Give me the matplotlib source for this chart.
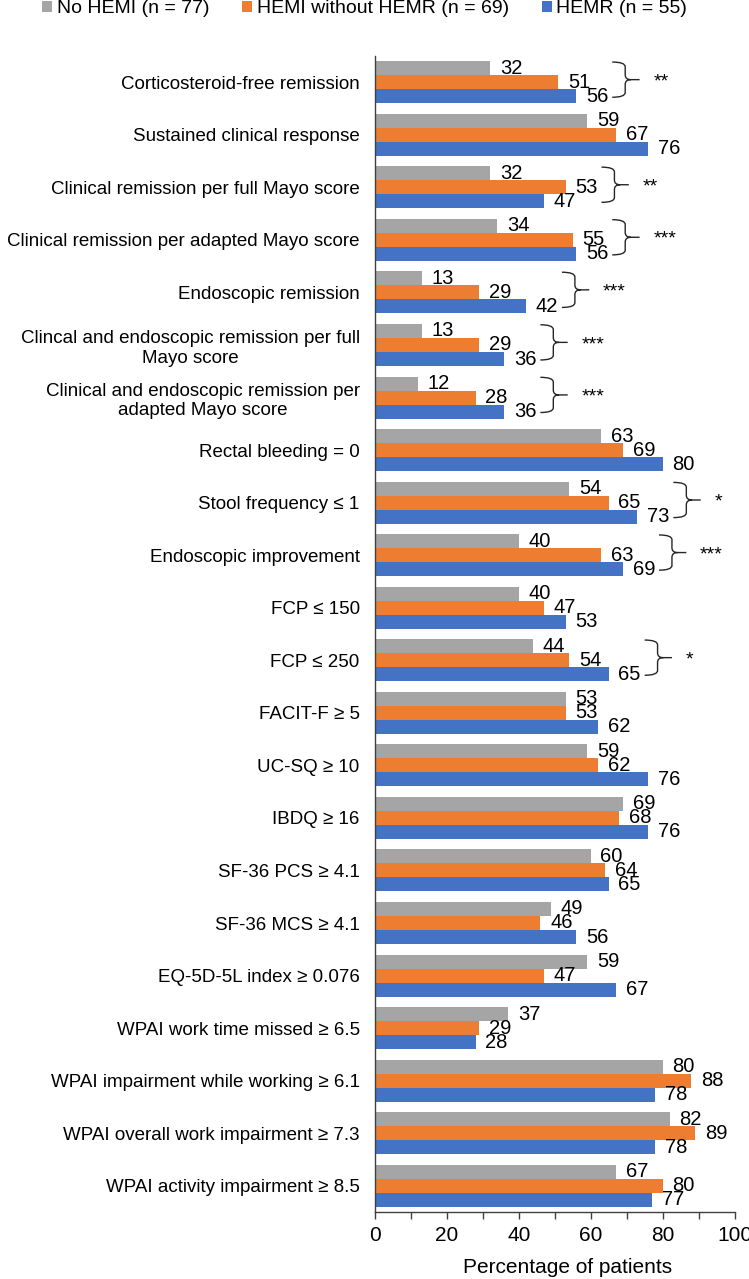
import matplotlib
matplotlib.use("Agg")
import matplotlib.pyplot as plt
import numpy as np
from matplotlib.patches import Patch, PathPatch
from matplotlib.path import Path

plt.rcParams['font.family'] = ['Liberation Sans', 'DejaVu Sans']

categories = [
    "Corticosteroid-free remission",
    "Sustained clinical response",
    "Clinical remission per full Mayo score",
    "Clinical remission per adapted Mayo score",
    "Endoscopic remission",
    "Clincal and endoscopic remission per full\nMayo score",
    "Clinical and endoscopic remission per\nadapted Mayo score",
    "Rectal bleeding = 0",
    "Stool frequency \u2264 1",
    "Endoscopic improvement",
    "FCP \u2264 150",
    "FCP \u2264 250",
    "FACIT-F \u2265 5",
    "UC-SQ \u2265 10",
    "IBDQ \u2265 16",
    "SF-36 PCS \u2265 4.1",
    "SF-36 MCS \u2265 4.1",
    "EQ-5D-5L index \u2265 0.076",
    "WPAI work time missed \u2265 6.5",
    "WPAI impairment while working \u2265 6.1",
    "WPAI overall work impairment \u2265 7.3",
    "WPAI activity impairment \u2265 8.5",
]

no_hemi = [32, 59, 32, 34, 13, 13, 12, 63, 54, 40, 40, 44, 53, 59, 69, 60, 49, 59, 37, 80, 82, 67]
hemi_no_hemr = [51, 67, 53, 55, 29, 29, 28, 69, 65, 63, 47, 54, 53, 62, 68, 64, 46, 47, 29, 88, 89, 80]
hemr = [56, 76, 47, 56, 42, 36, 36, 80, 73, 69, 53, 65, 62, 76, 76, 65, 56, 67, 28, 78, 78, 77]

series_names = ["No HEMI (n = 77)", "HEMI without HEMR (n = 69)", "HEMR (n = 55)"]
colors = ["#A5A5A5", "#ED7D31", "#4472C4"]

# significance brackets: row index -> stars
sig_rows = [0, 2, 3, 4, 5, 6, 8, 9, 11]
sig_stars = ["**", "**", "***", "***", "***", "***", "*", "***", "*"]

FS = 13.5

fig = plt.figure(figsize=(7.49, 12.79), dpi=100)
ax = fig.add_axes([375 / 749, 67 / 1279, 359.5 / 749, 1156 / 1279])

y = np.arange(len(categories))
h = 0.8 / 3
for k, vals in enumerate([no_hemi, hemi_no_hemr, hemr]):
    pos = y + (k - 1) * h
    ax.barh(pos, vals, height=h, color=colors[k], label=series_names[k])
    for p, v in zip(pos, vals):
        ax.annotate(str(v), (v, p), xytext=(7, 0), textcoords='offset points',
                    ha='left', va='center', fontsize=14.5)


def draw_brace(ax, x0, yc, stars):
    H = 0.335
    w = 3.6
    r = 0.09
    tip = 7.6
    verts = [
        (x0, yc - H), (x0 + w, yc - H), (x0 + w, yc - H + r),
        (x0 + w, yc - r), (x0 + w, yc), (x0 + w + 1.6, yc),
        (x0 + tip, yc),
        (x0 + w + 1.6, yc), (x0 + w, yc), (x0 + w, yc + r),
        (x0 + w, yc + H - r), (x0 + w, yc + H), (x0, yc + H),
    ]
    codes = [Path.MOVETO, Path.CURVE3, Path.CURVE3,
             Path.LINETO, Path.CURVE3, Path.CURVE3,
             Path.LINETO,
             Path.MOVETO, Path.CURVE3, Path.CURVE3,
             Path.LINETO, Path.CURVE3, Path.CURVE3]
    ax.add_patch(PathPatch(Path(verts, codes), fill=False, lw=1.0,
                           edgecolor='#262626', clip_on=False))
    ax.text(x0 + 11.4, yc + 0.04, stars, ha='left', va='center', fontsize=14)


for row, stars in zip(sig_rows, sig_stars):
    top = max(no_hemi[row], hemi_no_hemr[row], hemr[row])
    draw_brace(ax, top + 10, row - 0.05, stars)

ax.set_ylim(len(categories) - 0.5, -0.5)
ax.set_xlim(0, 100)
ax.set_yticks(y)
ax.set_yticklabels(categories, fontsize=FS)
for lbl in ax.get_yticklabels():
    lbl.set_multialignment('center')
ax.tick_params(axis='y', length=0, pad=11)

ax.set_xticks(np.arange(0, 101, 20))
ax.set_xticks(np.arange(10, 100, 20), minor=True)
ax.tick_params(axis='x', which='both', length=5, width=1, color='#404040',
               labelsize=15, pad=5)
ax.set_xlabel("Percentage of patients", fontsize=15)
ax.xaxis.set_label_coords(0.535, -0.04)

for s in ['top', 'right']:
    ax.spines[s].set_visible(False)
for s in ['left', 'bottom']:
    ax.spines[s].set_color('#404040')
    ax.spines[s].set_linewidth(1)

handles = [Patch(facecolor=c) for c in colors]
fig.legend(handles, series_names, loc='upper left', bbox_to_anchor=(42 / 749, 1.0),
           ncol=3, frameon=False, fontsize=14, handlelength=0.5, handleheight=0.5,
           handletextpad=0.25, columnspacing=1.7, borderpad=0, borderaxespad=0)

fig.savefig("out.png", dpi=100)
